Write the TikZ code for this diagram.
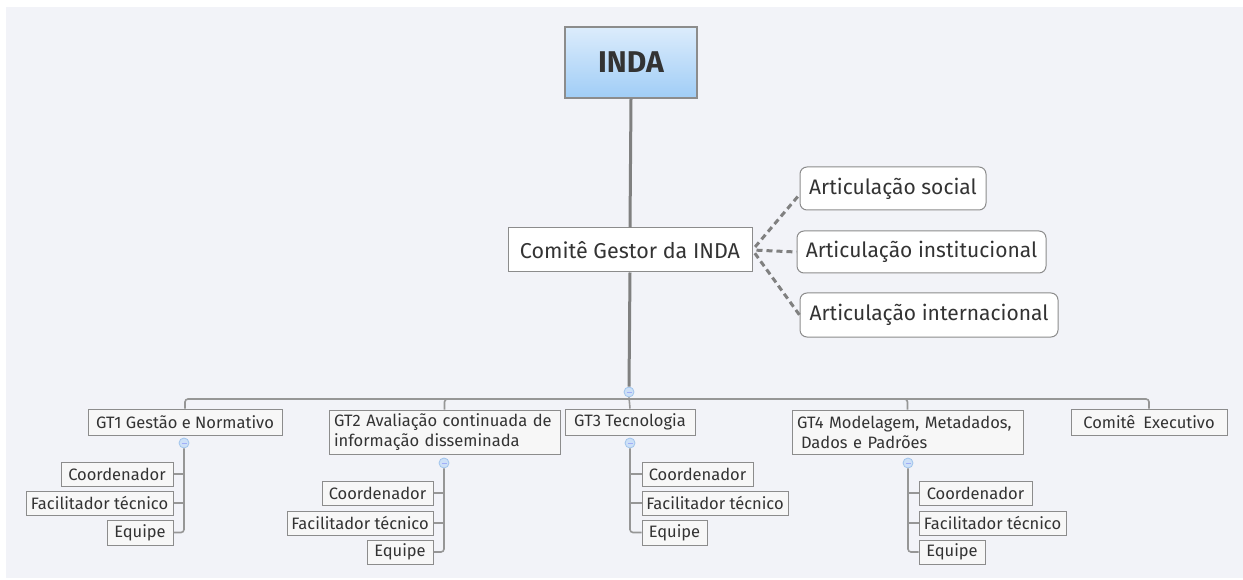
\documentclass[tikz,border=0pt]{standalone}
\usepackage{fontspec}
\setmainfont{Fira Sans}
\usetikzlibrary{positioning,calc}
\definecolor{bgc}{RGB}{242,243,248}
\definecolor{txt}{RGB}{51,51,51}
\definecolor{bord}{RGB}{140,140,140}
\definecolor{linec}{RGB}{128,128,128}
\definecolor{thinl}{RGB}{150,150,150}
\definecolor{btop}{RGB}{220,236,252}
\definecolor{bbot}{RGB}{160,205,246}
\definecolor{boxf}{RGB}{247,247,247}
\definecolor{circf}{RGB}{205,224,247}
\definecolor{circb}{RGB}{160,196,236}
\tikzset{
  x=1pt, y=-1pt,
  every node/.style={text=txt, inner sep=0pt},
  rootbox/.style={draw=bord, line width=1.5pt, top color=btop, bottom color=bbot, minimum width=132pt, minimum height=71pt, font=\fontsize{30}{34}\selectfont\bfseries},
  gbox/.style={draw=bord, line width=1pt, fill=white, minimum height=44pt, font=\fontsize{21.5}{25}\selectfont},
  abox/.style={draw=bord, line width=1pt, fill=white, rounded corners=7pt, font=\fontsize{21}{25}\selectfont},
  gtbox/.style={draw=bord, line width=1pt, fill=boxf, font=\fontsize{16.5}{20}\selectfont},
  cbox/.style={draw=bord, line width=1pt, fill=boxf, minimum height=24pt, font=\fontsize{16.5}{19}\selectfont},
  knob/.style={circle, draw=circb, fill=circf, minimum size=10pt, line width=0.8pt},
  mainl/.style={draw=linec, line width=3pt},
  busl/.style={draw=thinl, line width=1.6pt, rounded corners=3pt},
  dashl/.style={draw=linec, line width=3pt, dash pattern=on 6pt off 4pt},
}
\newcommand{\minus}[1]{\draw[draw=circb!60!blue!60, line width=0.8pt] ($(#1)+(-2.5,0)$) -- ($(#1)+(2.5,0)$);}
\begin{document}
\begin{tikzpicture}
\useasboundingbox (0,0) rectangle (1243,580);
\fill[bgc] (6,7) rectangle (1243,578);

% root and manager
\node[rootbox] (inda) at (631,62.5) {INDA};
\node[gbox, minimum width=244pt] (cg) at (630,250) {Comitê Gestor da INDA};

% articulations
\node[abox, minimum width=186pt, minimum height=43pt] (soc) at (893,188.5) {Articulação social};
\node[abox, minimum width=249pt, minimum height=42pt] (inst) at (921.5,252) {Articulação institucional};
\node[abox, minimum width=258pt, minimum height=44pt] (intl) at (929,315) {Articulação internacional};

% GT level
\node[gtbox, minimum width=194pt, minimum height=26pt] (gt1) at (185,422) {GT1 Gestão e Normativo};
\node[gtbox, minimum width=231pt, minimum height=44pt, align=left, text width=221pt] (gt2) at (444.5,432) {GT2 Avaliação continuada de\\informação disseminada};
\node[gtbox, minimum width=130pt, minimum height=26pt] (gt3) at (630,422) {GT3 Tecnologia};
\node[gtbox, minimum width=231pt, minimum height=44pt, align=left, text width=221pt] (gt4) at (907.5,432) {GT4 Modelagem, Metadados,\\\hspace*{4pt}Dados e Padrões};
\node[gtbox, minimum width=156pt, minimum height=26pt] (ce) at (1149,422) {Comitê\hspace{8pt}Executivo};

% children
\node[cbox, minimum width=112pt] (c1) at (117,474) {Coordenador};
\node[cbox, minimum width=147pt] (f1) at (99.5,503) {Facilitador técnico};
\node[cbox, minimum width=66pt, minimum height=25pt] (e1) at (140,532.5) {Equipe};

\node[cbox, minimum width=111pt] (c2) at (377.5,493) {Coordenador};
\node[cbox, minimum width=146pt] (f2) at (360,523) {Facilitador técnico};
\node[cbox, minimum width=66pt] (e2) at (400,552) {Equipe};

\node[cbox, minimum width=111pt] (c3) at (697.5,474) {Coordenador};
\node[cbox, minimum width=146pt] (f3) at (715,503) {Facilitador técnico};
\node[cbox, minimum width=65pt, minimum height=25pt] (e3) at (674.5,532.5) {Equipe};

\node[cbox, minimum width=113pt] (c4) at (975.5,493) {Coordenador};
\node[cbox, minimum width=147pt] (f4) at (992.5,523) {Facilitador técnico};
\node[cbox, minimum width=66pt] (e4) at (952,552) {Equipe};

% knobs
\node[knob] (k) at (629,392) {};
\node[knob] (k1) at (184,443) {};
\node[knob] (k2) at (444,463) {};
\node[knob] (k3) at (630,443) {};
\node[knob] (k4) at (908,463) {};
\coordinate (bus) at (630,399);

% connectors
\draw[mainl] (inda.south) -- (cg.north);
\draw[mainl] (cg.south) -- (k.north);
\draw[busl] (k.south) -- (gt3.north);
\draw[busl] (gt1.north) |- (bus);
\draw[busl] (gt2.north) |- (bus);
\draw[busl] (gt4.north) |- (bus);
\draw[busl] (ce.north) |- (bus);

\draw[dashl, shorten <=4pt] (cg.east) -- ($(soc.west)+(0,6)$);
\draw[dashl, shorten <=4pt] (cg.east) -- (inst.west);
\draw[dashl, shorten <=4pt] (cg.east) -- (intl.west);

\draw[busl] (k1.south) |- (e1.east);
\draw[busl] (c1.east) -- (c1.east -| k1);
\draw[busl] (f1.east) -- (f1.east -| k1);
\draw[busl] (k2.south) |- (e2.east);
\draw[busl] (c2.east) -- (c2.east -| k2);
\draw[busl] (f2.east) -- (f2.east -| k2);
\draw[busl] (k3.south) |- (e3.west);
\draw[busl] (c3.west) -- (c3.west -| k3);
\draw[busl] (f3.west) -- (f3.west -| k3);
\draw[busl] (k4.south) |- (e4.west);
\draw[busl] (c4.west) -- (c4.west -| k4);
\draw[busl] (f4.west) -- (f4.west -| k4);

\foreach \n in {k,k1,k2,k3,k4} {\minus{\n}}
\end{tikzpicture}
\end{document}
